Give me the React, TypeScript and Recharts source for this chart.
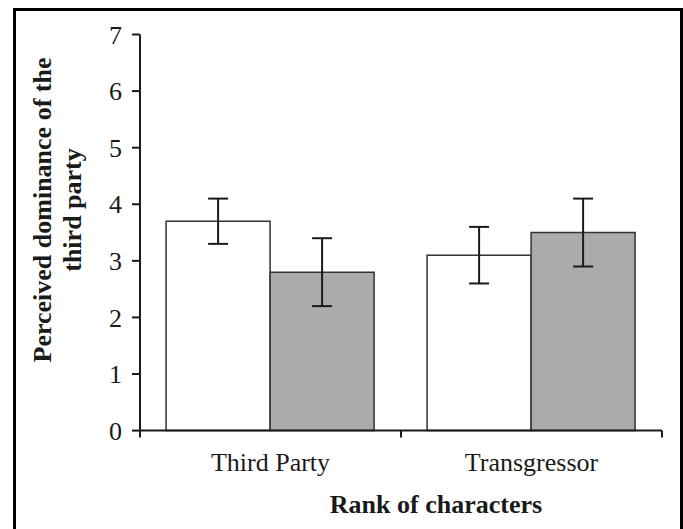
import React from "react";
import { BarChart, Bar, XAxis, YAxis, ErrorBar, Label } from "recharts";

const categories = ["Third Party", "Transgressor"];
const whiteValues = [3.7, 3.1];
const whiteErrors = [0.4, 0.5];
const grayValues = [2.8, 3.5];
const grayErrors = [0.6, 0.6];
const yTicks = [0, 1, 2, 3, 4, 5, 6, 7];

const data = categories.map((c, i) => ({
  name: c,
  white: whiteValues[i],
  whiteErr: whiteErrors[i],
  gray: grayValues[i],
  grayErr: grayErrors[i],
}));

const W = 683;
const H = 529;
const MARGIN = { top: 34.5, right: 21, bottom: 68.4, left: 0 };
const YAXIS_W = 140;
const PLOT_W = W - MARGIN.left - MARGIN.right - YAXIS_W;
const FONT = "'Liberation Serif', 'Times New Roman', serif";
const INK = "#1a1a1a";

const XTick = (props: any) => {
  const { x, y, payload, index } = props;
  const half = PLOT_W / categories.length / 2;
  return (
    <g>
      <text
        x={x}
        y={y + 40}
        textAnchor="middle"
        fontFamily={FONT}
        fontSize={26}
        fill={INK}
      >
        {payload.value}
      </text>
      <line x1={x + half} y1={y} x2={x + half} y2={y + 7} stroke={INK} strokeWidth={2} />
      {index === 0 && (
        <line x1={x - half} y1={y} x2={x - half} y2={y + 7} stroke={INK} strokeWidth={2} />
      )}
    </g>
  );
};

export default function App() {
  return (
    <div style={{ position: "absolute", left: 0, top: 0, width: W, height: H, background: "#fff", overflow: "hidden" }}>
      <div
        style={{
          position: "absolute",
          left: 13,
          top: 8,
          width: 670,
          height: 540,
          border: "3px solid #000",
          boxSizing: "border-box",
        }}
      />
      <div style={{ position: "absolute", left: 0, top: 0 }}>
        <BarChart
          width={W}
          height={H}
          data={data}
          margin={MARGIN}
          barCategoryGap="10%"
          barGap={0}
        >
          <XAxis
            dataKey="name"
            height={30}
            tickSize={0}
            tickMargin={0}
            tickLine={false}
            interval={0}
            axisLine={{ stroke: INK, strokeWidth: 2 }}
            tick={<XTick />}
          >
            <Label
              content={() => (
                <text
                  x={436}
                  y={513}
                  textAnchor="middle"
                  fontFamily={FONT}
                  fontSize={26}
                  fontWeight="bold"
                  fill={INK}
                >
                  Rank of characters
                </text>
              )}
            />
          </XAxis>
          <YAxis
            width={YAXIS_W}
            domain={[0, 7]}
            ticks={yTicks}
            interval={0}
            tickSize={8}
            tickMargin={10}
            axisLine={{ stroke: INK, strokeWidth: 2 }}
            tickLine={{ stroke: INK, strokeWidth: 2 }}
            tick={{ fontFamily: FONT, fontSize: 26, fill: INK }}
          >
            <Label
              content={() => (
                <g fontFamily={FONT} fontSize={26} fontWeight="bold" fill={INK}>
                  <text
                    x={42}
                    y={210}
                    textAnchor="middle"
                    dominantBaseline="central"
                    transform="rotate(-90, 42, 210)"
                  >
                    Perceived dominance of the
                  </text>
                  <text
                    x={72}
                    y={210}
                    textAnchor="middle"
                    dominantBaseline="central"
                    transform="rotate(-90, 72, 210)"
                  >
                    third party
                  </text>
                </g>
              )}
            />
          </YAxis>
          <Bar dataKey="white" fill="#ffffff" stroke="#333" strokeWidth={1.5} isAnimationActive={false}>
            <ErrorBar dataKey="whiteErr" width={10} stroke={INK} strokeWidth={2} isAnimationActive={false} />
          </Bar>
          <Bar dataKey="gray" fill="#ababab" stroke="#333" strokeWidth={1.5} isAnimationActive={false}>
            <ErrorBar dataKey="grayErr" width={10} stroke={INK} strokeWidth={2} isAnimationActive={false} />
          </Bar>
        </BarChart>
      </div>
    </div>
  );
}
